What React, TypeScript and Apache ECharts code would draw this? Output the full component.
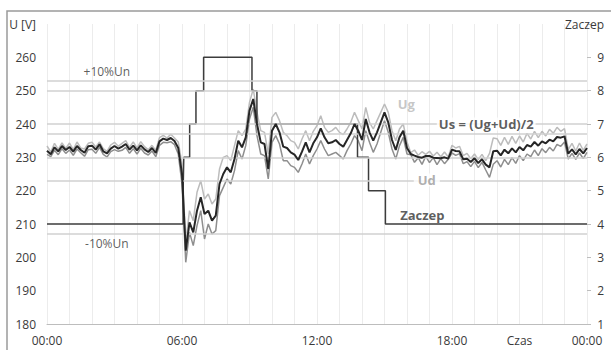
import React, { useEffect, useRef } from "react";
import * as echarts from "echarts";

// Voltage samples every 10 minutes, 00:00 .. 24:00 (145 points)
const ugValues = [
  233.4, 231.6, 234.2, 232.4, 234.3, 232.7,
  234.3, 232.3, 234.6, 232.8, 232.5, 234.2,
  234.5, 233.1, 234.6, 232.6, 231.8, 233.7,
  234.5, 233.3, 234.2, 235.0, 233.0, 234.6,
  232.8, 234.7, 233.2, 232.3, 233.6, 232.1,
  235.9, 236.6, 235.8, 236.9, 235.8, 234.6,
  228.0, 204.5, 214.0, 211.0, 219.5, 223.0,
  217.5, 219.0, 216.0, 217.5, 226.5, 230.0,
  230.5, 229.0, 233.5, 238.0, 236.5, 238.5,
  246.5, 250.5, 243.5, 238.0, 237.5, 231.0,
  242.0, 243.5, 241.0, 237.5, 236.5, 235.0,
  234.5, 232.5, 235.5, 238.0, 235.0, 237.8,
  239.5, 242.5, 239.0, 237.5, 238.0, 239.0,
  237.5, 236.8, 238.5, 240.5, 243.5, 241.0,
  238.5, 245.0, 240.5, 238.5, 241.0, 243.5,
  246.0, 243.5, 238.0, 235.0, 238.5, 240.0,
  234.6, 231.4, 232.2, 230.6, 231.7, 230.9,
  231.8, 230.4, 231.5, 230.2, 231.6, 230.1,
  233.6, 232.8, 233.3, 230.5, 231.2, 229.6,
  231.0, 229.3, 230.9, 229.0, 231.2, 235.8,
  235.6, 233.6, 236.0, 233.9, 236.3, 234.2,
  236.4, 234.6, 237.2, 235.5, 237.8, 235.9,
  237.8, 236.4, 238.4, 237.2, 239.0, 237.8,
  238.6, 232.3, 234.2, 231.9, 234.3, 232.1,
  234.0,
];

const udValues = [
  230.9, 230.2, 232.1, 230.8, 232.6, 231.2,
  232.2, 230.6, 232.5, 231.4, 230.3, 232.3,
  232.4, 231.2, 233.0, 230.9, 230.1, 231.7,
  232.3, 231.8, 232.1, 233.0, 231.2, 232.6,
  231.0, 232.7, 231.3, 230.7, 231.9, 230.2,
  233.6, 234.5, 234.4, 234.7, 233.8, 231.0,
  222.0, 198.5, 207.5, 203.5, 209.5, 214.0,
  205.5, 210.0, 207.0, 208.0, 218.5, 221.0,
  223.5, 222.0, 226.0, 232.0, 229.5, 233.5,
  241.5, 245.0, 236.5, 231.0, 230.5, 223.5,
  234.5, 236.5, 234.0, 229.0, 229.0, 227.5,
  227.0, 225.5, 228.0, 231.0, 228.0, 230.5,
  232.5, 235.0, 232.5, 230.5, 231.0, 231.5,
  230.5, 229.5, 232.0, 234.0, 236.5, 235.0,
  232.0, 238.0, 234.5, 231.5, 234.0, 237.5,
  241.0, 237.5, 232.5, 229.5, 233.5, 236.0,
  231.0, 230.8, 228.5, 229.9, 227.9, 230.3,
  228.4, 229.9, 227.8, 229.6, 228.1, 229.4,
  231.3, 230.6, 231.1, 228.1, 228.7, 227.2,
  228.8, 226.9, 228.5, 226.2, 224.0, 227.9,
  229.0, 227.1, 229.4, 227.8, 229.9, 228.2,
  230.5, 229.0, 231.0, 230.2, 232.2, 230.5,
  232.6, 231.4, 233.0, 231.9, 233.9, 233.3,
  234.6, 229.5, 231.2, 229.4, 231.3, 229.6,
  231.5,
];

const usValues = [
  232.0, 230.9, 233.0, 231.8, 233.4, 232.2,
  233.1, 231.7, 233.4, 232.2, 231.4, 233.3,
  233.5, 232.3, 233.9, 231.8, 231.2, 232.6,
  233.4, 232.6, 233.2, 234.0, 232.3, 233.5,
  232.1, 233.6, 232.4, 231.6, 232.8, 231.3,
  234.8, 235.6, 235.2, 235.8, 234.9, 232.8,
  225.0, 202.0, 210.5, 207.5, 214.0, 218.0,
  213.0, 214.0, 211.0, 212.5, 222.0, 225.0,
  227.0, 225.5, 229.5, 235.0, 233.0, 236.0,
  244.0, 247.5, 240.0, 234.5, 234.0, 226.5,
  238.0, 240.0, 237.5, 233.2, 232.8, 231.5,
  230.8, 229.2, 231.7, 234.5, 231.5, 234.2,
  236.0, 238.7, 236.0, 234.2, 234.5, 235.2,
  234.0, 233.2, 235.2, 237.2, 240.0, 238.0,
  235.2, 241.5, 237.5, 235.0, 237.5, 240.5,
  243.5, 240.5, 235.2, 232.2, 236.0, 238.0,
  232.8, 231.0, 230.5, 230.1, 229.9, 230.4,
  230.4, 229.9, 229.8, 229.7, 230.0, 229.6,
  232.3, 231.9, 231.8, 229.4, 229.6, 228.6,
  229.7, 228.3, 229.4, 227.8, 227.0, 231.8,
  232.0, 230.6, 232.3, 231.2, 232.7, 231.5,
  233.1, 232.1, 233.7, 233.2, 234.6, 233.5,
  234.8, 234.2, 235.3, 234.8, 236.1, 235.9,
  236.3, 231.1, 232.4, 230.9, 232.5, 231.2,
  232.8,
];

// Transformer tap position: hour at which each position starts
const tapHours = [0, 6.05, 6.08, 6.34, 6.62, 6.96, 9.11, 9.33, 13.8, 14.29, 15.04, 24];
const tapPositions = [4, 5, 6, 7, 8, 9, 8, 7, 6, 5, 4, 4];

// Horizontal reference levels [V] (±10 % Un, ±3 % Un and guide levels)
const referenceLevels = [253, 250, 240, 237, 230, 223, 207];

// In-plot annotations: [hour, voltage, text]
const annotations: [number, number, string][] = [
  [2.66, 255.9, "+10%Un"],
  [2.66, 204.3, "-10%Un"],
  [15.97, 246.0, "Ug"],
  [19.52, 240.0, "Us = (Ug+Ud)/2"],
  [16.88, 223.2, "Ud"],
  [16.68, 212.7, "Zaczep"],
];

const SAMPLES_PER_HOUR = 6;
const FONT = "'Open Sans', 'DejaVu Sans', sans-serif";

const toSeries = (vals: number[]) => vals.map((v, i) => [i / SAMPLES_PER_HOUR, v]);

const annotationStyle: Record<string, any> = {
  "+10%Un": { color: "#333", fontWeight: "normal", fontSize: 12 },
  "-10%Un": { color: "#333", fontWeight: "normal", fontSize: 12 },
  Ug: { color: "#b8b8b8", fontWeight: "bold", fontSize: 13 },
  "Us = (Ug+Ud)/2": { color: "#333", fontWeight: "bold", fontSize: 13, backgroundColor: "#fff", padding: [0, 2] },
  Ud: { color: "#9a9a9a", fontWeight: "bold", fontSize: 13, backgroundColor: "#fff", padding: [0, 4] },
  Zaczep: { color: "#333", fontWeight: "bold", fontSize: 13 },
};

const hourLabel = (v: number) => {
  if (v === 21) return "Czas";
  if (v % 6 === 0) return String(v % 24).padStart(2, "0") + ":00";
  return "";
};

const axisText = { color: "#3a3a3a", fontSize: 12, fontFamily: FONT, lineHeight: 12 };

export default function App() {
  const ref = useRef<HTMLDivElement>(null);

  useEffect(() => {
    if (!ref.current) return;
    const chart = echarts.init(ref.current, null, { renderer: "svg" });

    chart.setOption({
      animation: false,
      backgroundColor: "#fff",
      textStyle: { fontFamily: FONT },
      grid: { left: 47, right: 24, top: 24, bottom: 26, containLabel: false },
      graphic: [
        {
          type: "rect",
          shape: { x: 7, y: 11, width: 700, height: 400 },
          style: { fill: "none", stroke: "#9a9a9a", lineWidth: 1.5 },
          silent: true,
          z: 100,
        },
      ],
      xAxis: {
        type: "value",
        min: 0,
        max: 24,
        interval: 1,
        axisLine: { show: true, lineStyle: { color: "#bdbdbd", width: 1 } },
        axisTick: { show: false },
        splitLine: { show: true, lineStyle: { color: "#ececec", width: 1 } },
        axisLabel: {
          ...axisText,
          margin: 10,
          showMinLabel: true,
          showMaxLabel: true,
          formatter: hourLabel,
        },
      },
      yAxis: [
        {
          type: "value",
          min: 180,
          max: 270,
          interval: 10,
          axisLine: { show: false },
          axisTick: { show: false },
          splitLine: { show: false },
          axisLabel: {
            ...axisText,
            margin: 11,
            formatter: (v: number) => (v === 270 ? "U [V]" : String(v)),
          },
        },
        {
          type: "value",
          min: 1,
          max: 10,
          interval: 1,
          position: "right",
          axisLine: { show: false },
          axisTick: { show: true, length: 4, lineStyle: { color: "#bdbdbd" } },
          splitLine: { show: false },
          axisLabel: {
            ...axisText,
            margin: 17,
            align: "right",
            formatter: (v: number) => (v === 10 ? "Zaczep" : String(v)),
          },
        },
      ],
      series: [
        {
          name: "levels",
          type: "line",
          data: [],
          silent: true,
          markLine: {
            silent: true,
            symbol: "none",
            label: { show: false },
            lineStyle: { color: "#d0d0d0", width: 1.5, type: "solid" },
            data: referenceLevels.map((v) => ({ yAxis: v })),
          },
          z: 1,
        },
        {
          name: "Ug",
          type: "line",
          data: toSeries(ugValues),
          showSymbol: false,
          lineStyle: { color: "#bcbcbc", width: 1.5 },
          z: 2,
        },
        {
          name: "Ud",
          type: "line",
          data: toSeries(udValues),
          showSymbol: false,
          lineStyle: { color: "#8e8e8e", width: 1.5 },
          z: 3,
        },
        {
          name: "Zaczep",
          type: "line",
          yAxisIndex: 1,
          step: "end",
          data: tapHours.map((h, i) => [h, tapPositions[i]]),
          showSymbol: false,
          lineStyle: { color: "#3c3c3c", width: 1.5 },
          z: 4,
        },
        {
          name: "Us",
          type: "line",
          data: toSeries(usValues),
          showSymbol: false,
          lineStyle: { color: "#262626", width: 2 },
          z: 5,
        },
        {
          name: "labels",
          type: "scatter",
          symbol: "rect",
          symbolSize: 1,
          itemStyle: { color: "transparent" },
          silent: true,
          z: 10,
          data: annotations.map(([h, v, text]) => ({
            value: [h, v],
            label: {
              show: true,
              position: "inside",
              formatter: text,
              fontFamily: FONT,
              ...annotationStyle[text],
            },
          })),
        },
      ],
    });

    return () => chart.dispose();
  }, []);

  return (
    <div
      ref={ref}
      style={{ position: "fixed", left: 0, top: 0, width: 611, height: 350, background: "#fff" }}
    />
  );
}
